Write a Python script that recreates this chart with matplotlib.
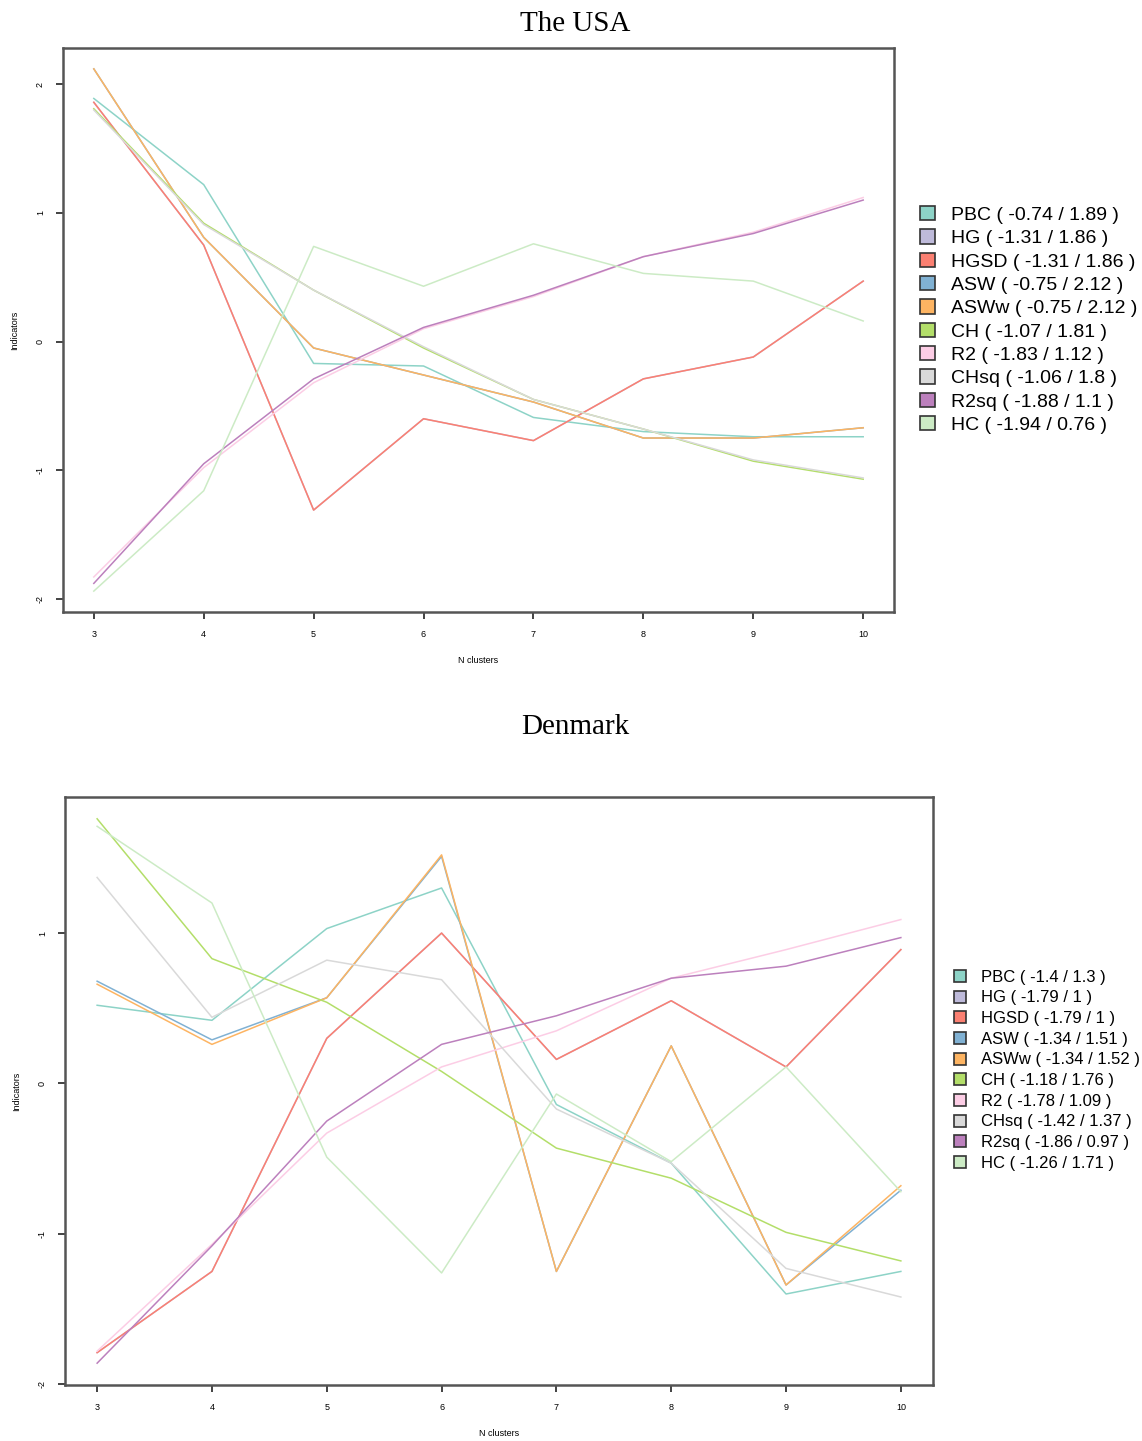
import numpy as np
import matplotlib.pyplot as plt
from matplotlib.patches import Patch

# cluster quality indicators (standardised) for k = 3..10
n_clusters = [3, 4, 5, 6, 7, 8, 9, 10]
indicators = ['PBC', 'HG', 'HGSD', 'ASW', 'ASWw', 'CH', 'R2', 'CHsq', 'R2sq', 'HC']
# RColorBrewer Set3
colors = ['#8DD3C7', '#BEBADA', '#FB8072', '#80B1D3', '#FDB462',
          '#B3DE69', '#FCCDE5', '#D9D9D9', '#BC80BD', '#CCEBC5']

usa_pbc  = [1.89, 1.22, -0.17, -0.19, -0.59, -0.70, -0.74, -0.74]
usa_hg   = [1.86, 0.75, -1.31, -0.60, -0.77, -0.29, -0.12, 0.47]
usa_hgsd = [1.86, 0.75, -1.31, -0.60, -0.77, -0.29, -0.12, 0.47]
usa_asw  = [2.12, 0.81, -0.05, -0.26, -0.47, -0.75, -0.75, -0.67]
usa_asww = [2.12, 0.81, -0.05, -0.26, -0.47, -0.75, -0.75, -0.67]
usa_ch   = [1.81, 0.92, 0.40, -0.05, -0.45, -0.68, -0.93, -1.07]
usa_r2   = [-1.83, -0.98, -0.32, 0.10, 0.35, 0.66, 0.85, 1.12]
usa_chsq = [1.80, 0.91, 0.40, -0.04, -0.45, -0.68, -0.92, -1.06]
usa_r2sq = [-1.88, -0.95, -0.29, 0.11, 0.36, 0.66, 0.84, 1.10]
usa_hc   = [-1.94, -1.16, 0.74, 0.43, 0.76, 0.53, 0.47, 0.16]
usa_min = [-0.74, -1.31, -1.31, -0.75, -0.75, -1.07, -1.83, -1.06, -1.88, -1.94]
usa_max = [1.89, 1.86, 1.86, 2.12, 2.12, 1.81, 1.12, 1.8, 1.1, 0.76]

dk_pbc  = [0.52, 0.42, 1.03, 1.30, -0.14, -0.53, -1.40, -1.25]
dk_hg   = [-1.79, -1.25, 0.30, 1.00, 0.16, 0.55, 0.11, 0.89]
dk_hgsd = [-1.79, -1.25, 0.30, 1.00, 0.16, 0.55, 0.11, 0.89]
dk_asw  = [0.68, 0.29, 0.57, 1.51, -1.25, 0.25, -1.34, -0.71]
dk_asww = [0.66, 0.26, 0.57, 1.52, -1.25, 0.25, -1.34, -0.68]
dk_ch   = [1.76, 0.83, 0.54, 0.08, -0.43, -0.63, -0.99, -1.18]
dk_r2   = [-1.78, -1.07, -0.33, 0.11, 0.35, 0.70, 0.89, 1.09]
dk_chsq = [1.37, 0.44, 0.82, 0.69, -0.17, -0.53, -1.23, -1.42]
dk_r2sq = [-1.86, -1.08, -0.25, 0.26, 0.45, 0.70, 0.78, 0.97]
dk_hc   = [1.71, 1.20, -0.49, -1.26, -0.07, -0.52, 0.11, -0.72]
dk_min = [-1.4, -1.79, -1.79, -1.34, -1.34, -1.18, -1.78, -1.42, -1.86, -1.26]
dk_max = [1.3, 1, 1, 1.51, 1.52, 1.76, 1.09, 1.37, 0.97, 1.71]

usa = [usa_pbc, usa_hg, usa_hgsd, usa_asw, usa_asww, usa_ch, usa_r2, usa_chsq, usa_r2sq, usa_hc]
dk = [dk_pbc, dk_hg, dk_hgsd, dk_asw, dk_asww, dk_ch, dk_r2, dk_chsq, dk_r2sq, dk_hc]

plt.rcParams['font.family'] = ['Liberation Sans', 'DejaVu Sans']

fig = plt.figure(figsize=(11.42, 14.41), dpi=100)


def draw(ax, series, mins, maxs, leg_x, leg_y, leg_fs, leg_sp, box, tpad):
    for vals, c in zip(series, colors):
        ax.plot(n_clusters, vals, color=c, lw=1.1)
    ax.set_xticks(n_clusters)
    ax.set_yticks([-2, -1, 0, 1, 2])
    ax.set_yticklabels(['-2', '-1', '0', '1', '2'], rotation=90, va='center')
    # R-style 4% padding around the data range
    lo = min(min(s) for s in series)
    hi = max(max(s) for s in series)
    pad = (hi - lo) * 0.04
    ax.set_ylim(lo - pad, hi + pad)
    ax.set_xlim(3 - 0.28, 10 + 0.28)
    ax.tick_params(direction='out', length=5, width=1.2, labelsize=6.5, pad=8, color='#222222')
    for sp in ax.spines.values():
        sp.set_color('#555555')
        sp.set_linewidth(1.8)
    ax.set_xlabel('N clusters', fontsize=6.5, labelpad=12)
    ax.set_ylabel('Indicators', fontsize=6.5, labelpad=12)
    handles = [Patch(facecolor=c, edgecolor='#333333', linewidth=1.2,
                     label='%s ( %s / %s )' % (n, lo_, hi_))
               for n, c, lo_, hi_ in zip(indicators, colors, mins, maxs)]
    fig.legend(handles=handles, loc='upper left', bbox_to_anchor=(leg_x, leg_y),
               bbox_transform=fig.transFigure, frameon=False, fontsize=leg_fs,
               labelspacing=leg_sp, handlelength=box, handleheight=box,
               handletextpad=tpad, borderpad=0, borderaxespad=0)


ax1 = fig.add_axes([0.0552, 0.5753, 0.7276, 0.3914])
draw(ax1, usa, usa_min, usa_max, 0.806, 0.857, 14, 0.28, 0.75, 0.83)
fig.text(0.504, 0.9835, 'The USA', ha='center', va='center',
         family='Liberation Serif', fontsize=21)

ax2 = fig.add_axes([0.0569, 0.0389, 0.7601, 0.4080])
draw(ax2, dk, dk_min, dk_max, 0.835, 0.327, 12, 0.34, 0.75, 0.9)
fig.text(0.504, 0.4955, 'Denmark', ha='center', va='center',
         family='Liberation Serif', fontsize=21)

plt.savefig('out.png', dpi=100)
